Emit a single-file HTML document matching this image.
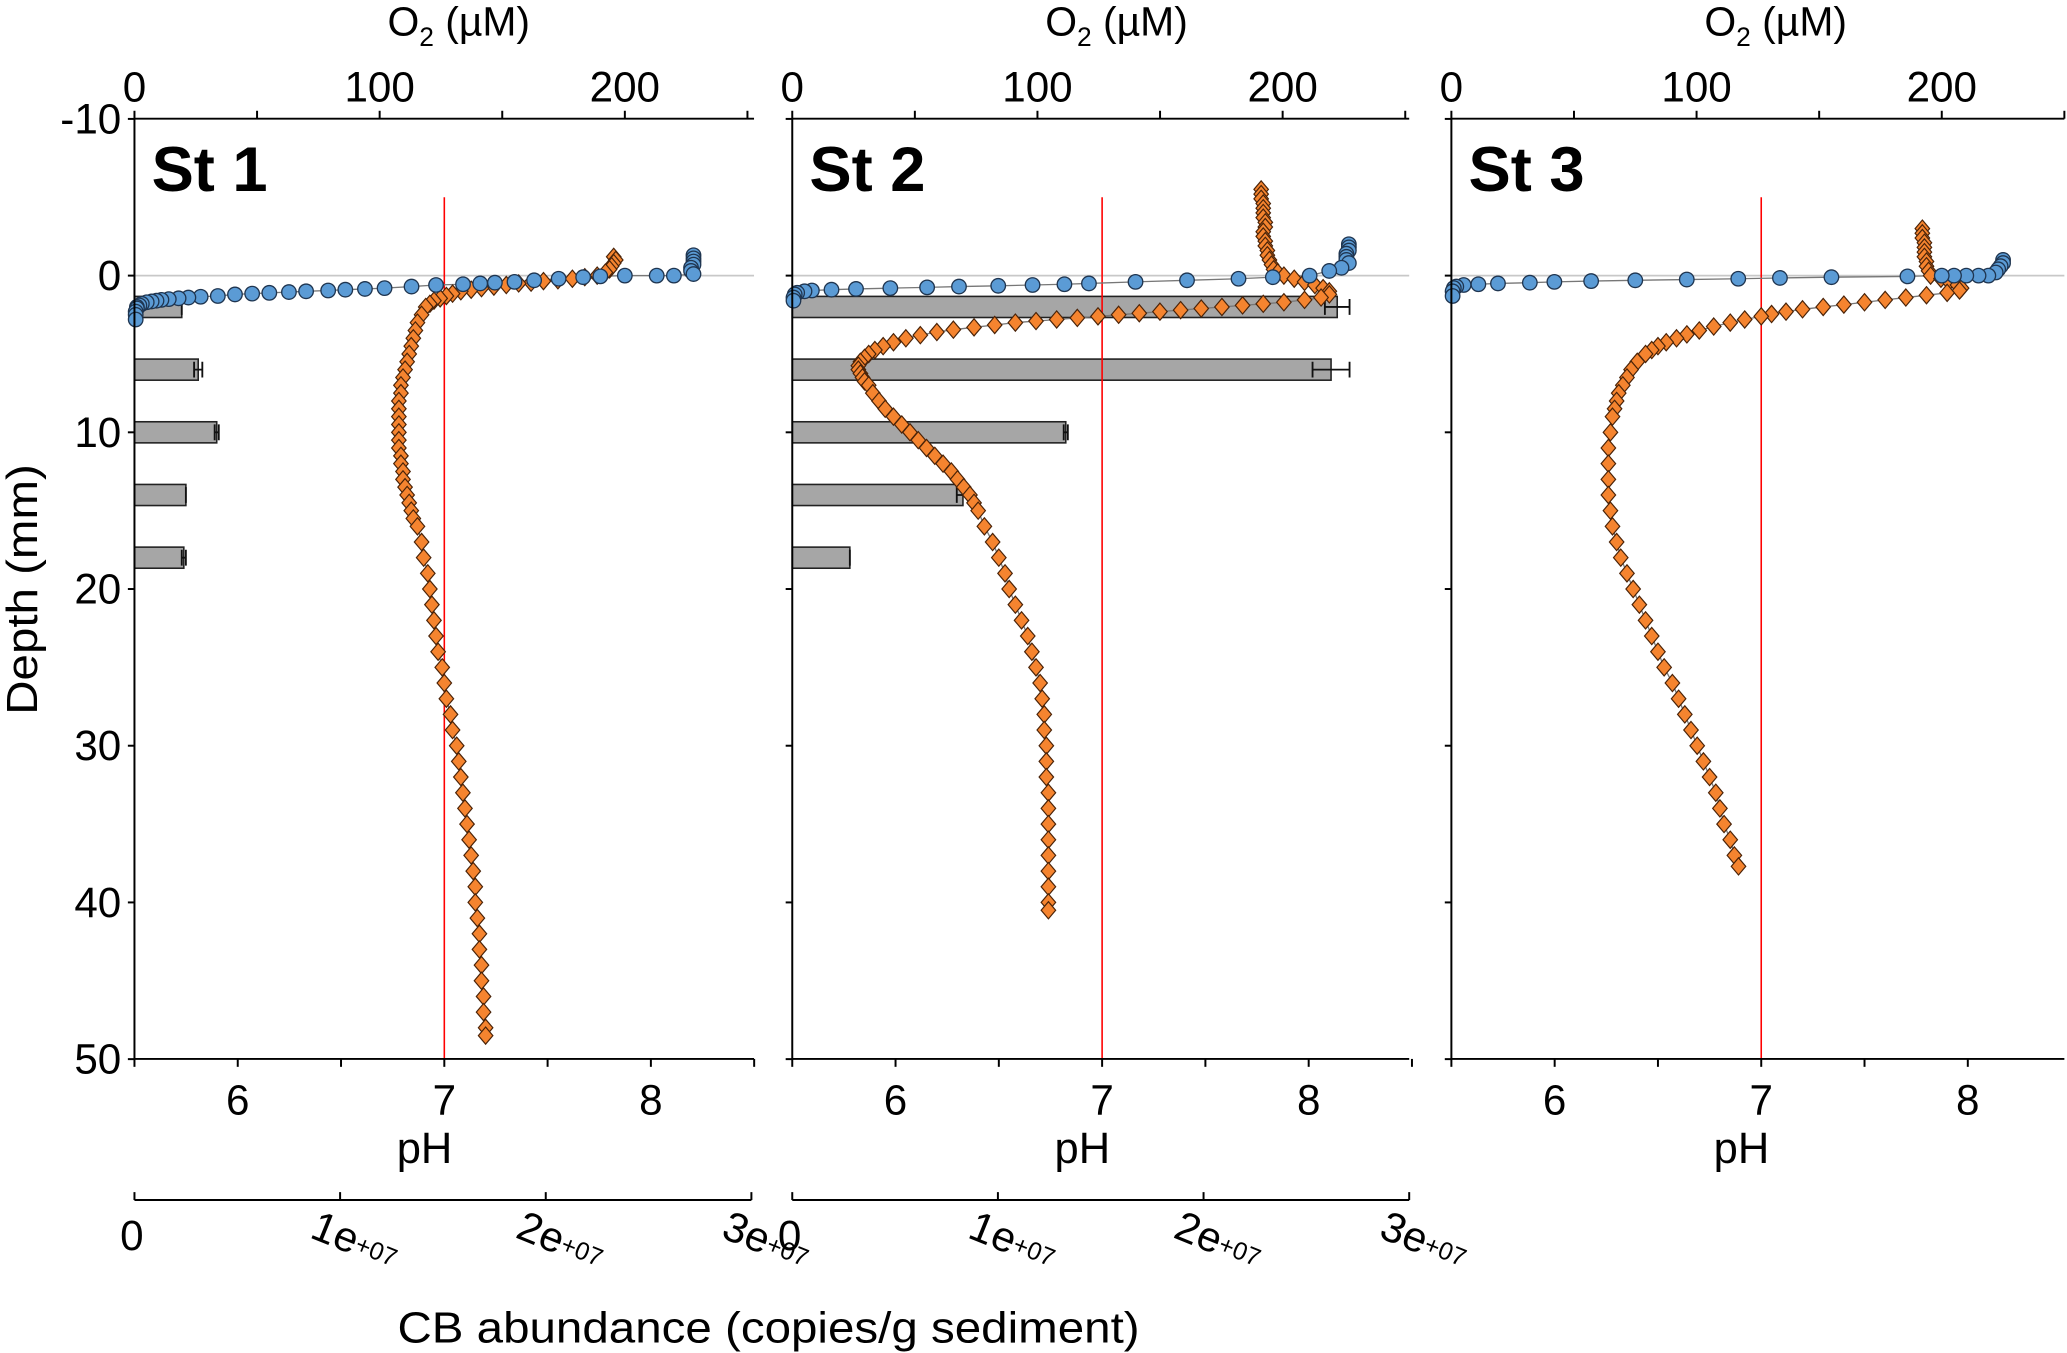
<!DOCTYPE html>
<html><head><meta charset="utf-8"><style>
html,body{margin:0;padding:0;background:#fff;}
svg{display:block;font-family:"Liberation Sans",Arial,sans-serif;}
</style></head><body>
<svg id="chart" xmlns="http://www.w3.org/2000/svg" width="2067" height="1353" viewBox="0 0 1568 1026" preserveAspectRatio="none">
<text x="0" y="0" transform="translate(28,447) rotate(-90)" text-anchor="middle" font-size="33" textLength="190" lengthAdjust="spacingAndGlyphs">Depth (mm)</text>
<text x="583" y="1018" text-anchor="middle" font-size="33" textLength="563" lengthAdjust="spacingAndGlyphs">CB abundance (copies/g sediment)</text>
</svg>
<script>
const depthTicks = [-10, 0, 10, 20, 30, 40, 50];
const o2Ticks = [0, 50, 100, 150, 200, 250];
const o2Labels = [0, 100, 200];
const phTicks = [5.5, 6, 6.5, 7, 7.5, 8, 8.5];
const phLabels = [6, 7, 8];
const cbTicks = [0, 1, 2, 3];
const stations = ["St 1", "St 2", "St 3"];

const o2St1 = [[-1.3,228],[-1.1,228],[-0.9,228],[-0.7,228],[-0.5,227],[-0.3,227],[-0.1,228],[0,220],[0,213],[0,200],[0.05,190],[0.1,183],[0.2,173],[0.3,163],[0.4,155],[0.45,147],[0.5,141],[0.55,134],[0.6,123],[0.7,113],[0.8,102],[0.85,94],[0.9,86],[0.95,79],[1.0,70],[1.05,63],[1.1,55],[1.15,48],[1.2,41],[1.3,34],[1.35,27],[1.4,22],[1.45,18],[1.5,14],[1.55,11],[1.6,9],[1.65,7],[1.7,5],[1.8,3],[1.9,2],[2.0,1],[2.1,1],[2.3,0.5],[2.5,0.5],[2.8,0.5]];
const o2St2 = [[-2.0,227],[-1.8,227],[-1.6,227],[-1.4,226],[-1.2,226],[-1.0,226],[-0.8,227],[-0.5,224],[-0.3,219],[0,211],[0.1,196],[0.2,182],[0.3,161],[0.4,140],[0.5,121],[0.55,111],[0.6,98],[0.65,84],[0.7,68],[0.75,55],[0.8,40],[0.85,26],[0.9,16],[0.95,8],[1.0,5],[1.1,2],[1.2,1],[1.4,0.5],[1.6,0.5]];
const o2St3 = [[-1.0,225],[-0.8,225],[-0.6,224],[-0.4,223],[-0.2,222],[0,219],[0,215],[0,210],[0,205],[0,200],[0.05,186],[0.1,155],[0.15,134],[0.2,117],[0.25,96],[0.3,75],[0.35,57],[0.4,42],[0.45,32],[0.5,19],[0.55,11],[0.6,5],[0.7,2],[0.8,1],[1.0,0.5],[1.3,0.5]];

const phSt1 = [[-1.2,7.82],[-1.0,7.83],[-0.8,7.82],[-0.6,7.81],[-0.4,7.80],[-0.2,7.78],[0,7.74],[0.1,7.68],[0.2,7.62],[0.3,7.55],[0.35,7.48],[0.45,7.42],[0.5,7.36],[0.6,7.3],[0.7,7.24],[0.8,7.18],[0.9,7.13],[1.0,7.08],[1.15,7.04],[1.3,7.01],[1.45,6.98],[1.6,6.95],[1.8,6.93],[2.0,6.91],[2.5,6.89],[3,6.87],[3.5,6.86],[4,6.85],[4.5,6.84],[5,6.83],[5.5,6.82],[6,6.81],[6.5,6.80],[7,6.79],[7.5,6.79],[8,6.78],[8.5,6.78],[9,6.78],[9.5,6.78],[10,6.78],[10.5,6.78],[11,6.78],[11.5,6.79],[12,6.79],[12.5,6.80],[13,6.80],[13.5,6.81],[14,6.82],[14.5,6.83],[15,6.84],[15.5,6.85],[16,6.87],[17,6.89],[18,6.9],[19,6.92],[20,6.93],[21,6.94],[22,6.95],[23,6.96],[24,6.97],[25,6.99],[26,7.00],[27,7.01],[28,7.03],[29,7.04],[30,7.06],[31,7.07],[32,7.08],[33,7.09],[34,7.10],[35,7.11],[36,7.12],[37,7.13],[38,7.14],[39,7.15],[40,7.15],[41,7.16],[42,7.17],[43,7.17],[44,7.18],[45,7.18],[46,7.19],[47,7.19],[48,7.2],[48.5,7.2]];
const phSt2 = [[-5.5,7.77],[-5.2,7.77],[-4.9,7.77],[-4.6,7.78],[-4.3,7.78],[-4.0,7.78],[-3.7,7.78],[-3.4,7.79],[-3.1,7.79],[-2.8,7.78],[-2.5,7.78],[-2.2,7.79],[-1.9,7.79],[-1.6,7.80],[-1.3,7.80],[-1.0,7.81],[-0.7,7.82],[-0.4,7.83],[-0.2,7.85],[0,7.88],[0.2,7.93],[0.4,7.98],[0.6,8.03],[0.8,8.07],[1.0,8.1],[1.2,8.1],[1.4,8.06],[1.55,7.98],[1.7,7.88],[1.8,7.78],[1.9,7.68],[2.0,7.58],[2.1,7.48],[2.2,7.38],[2.3,7.28],[2.4,7.18],[2.5,7.08],[2.6,6.98],[2.7,6.88],[2.8,6.78],[2.9,6.68],[3.0,6.58],[3.15,6.48],[3.3,6.38],[3.45,6.28],[3.6,6.2],[3.8,6.12],[4.0,6.05],[4.25,5.99],[4.5,5.94],[4.75,5.9],[5.0,5.87],[5.25,5.85],[5.5,5.83],[5.75,5.82],[6.0,5.82],[6.25,5.83],[6.5,5.84],[6.75,5.85],[7,5.87],[7.5,5.89],[8,5.92],[8.5,5.95],[9,5.99],[9.5,6.03],[10,6.07],[10.5,6.11],[11,6.15],[11.5,6.19],[12,6.23],[12.5,6.27],[13,6.3],[13.5,6.33],[14,6.36],[14.5,6.38],[15,6.4],[16,6.43],[17,6.47],[18,6.5],[19,6.53],[20,6.55],[21,6.58],[22,6.61],[23,6.64],[24,6.66],[25,6.68],[26,6.7],[27,6.71],[28,6.72],[29,6.72],[30,6.73],[31,6.73],[32,6.73],[33,6.74],[34,6.74],[35,6.74],[36,6.74],[37,6.74],[38,6.74],[39,6.74],[40,6.74],[40.5,6.74]];
const phSt3 = [[-3.0,7.78],[-2.7,7.78],[-2.4,7.78],[-2.1,7.79],[-1.8,7.79],[-1.5,7.79],[-1.2,7.79],[-0.9,7.8],[-0.6,7.8],[-0.3,7.81],[0,7.82],[0.2,7.87],[0.4,7.91],[0.6,7.95],[0.8,7.97],[0.95,7.96],[1.1,7.9],[1.25,7.8],[1.4,7.7],[1.55,7.6],[1.7,7.5],[1.85,7.4],[2.0,7.3],[2.15,7.2],[2.3,7.12],[2.45,7.05],[2.6,7.0],[2.8,6.92],[3.0,6.85],[3.25,6.77],[3.5,6.7],[3.75,6.64],[4.0,6.59],[4.25,6.54],[4.5,6.5],[4.75,6.47],[5,6.44],[5.5,6.4],[6,6.37],[6.5,6.35],[7,6.33],[7.5,6.31],[8,6.3],[8.5,6.29],[9,6.28],[10,6.27],[11,6.26],[12,6.26],[13,6.26],[14,6.26],[15,6.27],[16,6.28],[17,6.3],[18,6.32],[19,6.35],[20,6.38],[21,6.41],[22,6.44],[23,6.47],[24,6.5],[25,6.53],[26,6.57],[27,6.6],[28,6.63],[29,6.66],[30,6.69],[31,6.72],[32,6.75],[33,6.78],[34,6.8],[35,6.82],[36,6.85],[37,6.87],[37.7,6.89]];

const cbDepths = [2, 6, 10, 14, 18];
const cbSt1 = [0.23, 0.31, 0.40, 0.25, 0.24];
const cbErrSt1 = [0.0, 0.02, 0.01, 0.0, 0.01];
const cbSt2 = [2.65, 2.62, 1.33, 0.83, 0.28];
const cbErrSt2 = [0.06, 0.09, 0.01, 0.03, 0.0];

const NS = "http://www.w3.org/2000/svg";
const svg = document.getElementById("chart");
const panelX = [102, 601, 1101];
const panelW = [470, 468, 465];
const yTop = 90, yBot = 803;
function yD(d){ return 209 + d * 11.883; }
function xO(x0, o){ return x0 + o * 1.86; }
function xP(x0, p){ return x0 + (p - 5.5) * 156.7; }
function xC(x0, v){ return x0 + v * 156; }
function mk(tag, attrs, parent){
  const e = document.createElementNS(NS, tag);
  for (const k in attrs) e.setAttribute(k, attrs[k]);
  (parent || svg).appendChild(e);
  return e;
}
const o2Data = [o2St1, o2St2, o2St3];
const phData = [phSt1, phSt2, phSt3];
const cbData = [cbSt1, cbSt2, null];
const cbErr = [cbErrSt1, cbErrSt2, null];

for (let p = 0; p < 3; p++){
  const x0 = panelX[p], w = panelW[p];
  const g = mk("g", {});
  
  
  const zl = mk("line", {x1:x0, x2:x0+w, y1:yD(0), y2:yD(0), stroke:"#c8c8c8", "stroke-width":1.3}, g);
  
  
  if (cbData[p]){
    for (let i = 0; i < cbDepths.length; i++){
      const v = cbData[p][i], e = cbErr[p][i];
      const yc = yD(cbDepths[i]);
      const b = mk("rect", {x:x0, y:yc-8, width:xC(x0,v)-x0, height:16, fill:"#a6a6a6", stroke:"#222", "stroke-width":1.2}, g);
      
      
      const ea = xC(x0, v - e), eb = xC(x0, v + e);
      const eg = mk("path", {d:`M${ea},${yc}H${eb}M${ea},${yc-6}V${yc+6}M${eb},${yc-6}V${yc+6}`, stroke:"#111", "stroke-width":1.4, fill:"none"}, g);
      
      
    }
  }
  const rl = mk("line", {x1:xP(x0,7), x2:xP(x0,7), y1:yD(-5), y2:yBot, stroke:"#ff0000", "stroke-width":1.2}, g);
  
  
  const o2 = o2Data[p];
  const ol = mk("polyline", {points:o2.map(d => xO(x0,d[1]) + "," + yD(d[0])).join(" "), fill:"none", stroke:"#777", "stroke-width":1}, g);
  
  
  const ph = phData[p];
  const pl = mk("polyline", {points:ph.map(d => xP(x0,d[1]) + "," + yD(d[0])).join(" "), fill:"none", stroke:"#777", "stroke-width":1}, g);
  
  
  for (const d of ph){
    const cx = xP(x0,d[1]), cy = yD(d[0]);
    const dm = mk("path", {d:`M${cx},${cy-6.5}L${cx+5.5},${cy}L${cx},${cy+6.5}L${cx-5.5},${cy}Z`, fill:"#f5842f", stroke:"#4a2308", "stroke-width":0.9}, g);
    
    
  }
  for (const d of o2){
    const c = mk("circle", {cx:xO(x0,d[1]), cy:yD(d[0]), r:5.5, fill:"#5b9bd5", stroke:"#1f3550", "stroke-width":1}, g);
    
    
  }
  const la = mk("line", {x1:x0, x2:x0, y1:yTop, y2:yBot, stroke:"#000", "stroke-width":1.5}, g);
  
  
  for (const t of depthTicks){
    const tk = mk("line", {x1:x0-5, x2:x0, y1:yD(t), y2:yD(t), stroke:"#000", "stroke-width":1.5}, g);
    
    
    if (p === 0){
      const tl = mk("text", {x:x0-10, y:yD(t)+11, "text-anchor":"end", "font-size":32}, g);
      tl.textContent = t;
      
      
    }
  }
  const ta = mk("line", {x1:x0, x2:x0+w, y1:yTop, y2:yTop, stroke:"#000", "stroke-width":1.5}, g);
  
  
  for (const t of o2Ticks){
    const tk = mk("line", {x1:xO(x0,t), x2:xO(x0,t), y1:yTop-6, y2:yTop, stroke:"#000", "stroke-width":1.5}, g);
    
    
  }
  for (const t of o2Labels){
    const tl = mk("text", {x:xO(x0,t), y:77, "text-anchor":"middle", "font-size":32}, g);
    tl.textContent = t;
    
    
  }
  const ot = mk("text", {x:x0+246, y:27, "text-anchor":"middle", "font-size":31}, g);
  ot.innerHTML = 'O<tspan font-size="20" dy="8">2</tspan><tspan dy="-8"> (µM)</tspan>';
  
  
  const st = mk("text", {x:x0+13, y:145, "font-size":48, "font-weight":"bold"}, g);
  st.textContent = stations[p];
  
  
  const ba = mk("line", {x1:x0, x2:x0+w, y1:yBot, y2:yBot, stroke:"#000", "stroke-width":1.5}, g);
  
  
  for (const t of phTicks){
    const tk = mk("line", {x1:xP(x0,t), x2:xP(x0,t), y1:yBot, y2:yBot+6, stroke:"#000", "stroke-width":1.5}, g);
    
    
  }
  for (const t of phLabels){
    const tl = mk("text", {x:xP(x0,t), y:845, "text-anchor":"middle", "font-size":32}, g);
    tl.textContent = t;
    
    
  }
  const pt = mk("text", {x:xP(x0,7)-15, y:882, "text-anchor":"middle", "font-size":33}, g);
  pt.textContent = "pH";
  
  
  if (p < 2){
    const ca = mk("line", {x1:x0, x2:xC(x0,3), y1:910, y2:910, stroke:"#000", "stroke-width":1.5}, g);
    
    
    for (const t of cbTicks){
      const tk = mk("line", {x1:xC(x0,t), x2:xC(x0,t), y1:904, y2:910, stroke:"#000", "stroke-width":1.5}, g);
      
      
      let tl;
      if (t === 0){
        tl = mk("text", {x:xC(x0,t)-2, y:948, "text-anchor":"middle", "font-size":32}, g);
        tl.textContent = "0";
      } else {
        tl = mk("text", {x:0, y:0, "font-size":32, transform:`translate(${xC(x0,t)-24},938) rotate(22)`}, g);
        tl.innerHTML = t + 'e<tspan font-size="19" dy="-3">+07</tspan>';
      }
      
      
    }
  }
}
</script>
</body></html>
